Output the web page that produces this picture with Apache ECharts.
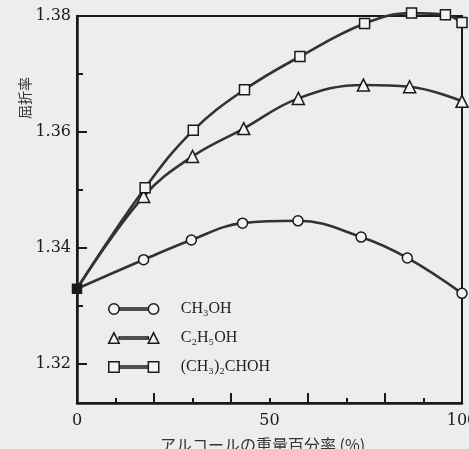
<!DOCTYPE html>
<html><head><meta charset="utf-8">
<script src="https://cdn.jsdelivr.net/npm/echarts@6/dist/echarts.min.js"></script>
<style>html,body{margin:0;padding:0;background:#ededeb}#c{width:469px;height:449px}</style>
</head><body><div id="c"></div>
<script>
// Data (x: alcohol weight %, y: refractive index)
const seriesNames = ['CH₃OH', 'C₂H₅OH', '(CH₃)₂CHOH'];
const xMethanol = [0, 17.3, 29.7, 43.0, 57.4, 73.8, 85.8, 100];
const yMethanol = [1.3330, 1.3380, 1.3414, 1.3443, 1.3447, 1.3419, 1.3383, 1.3322];
const xEthanol = [0, 17.3, 30.0, 43.3, 57.5, 74.4, 86.4, 100];
const yEthanol = [1.3330, 1.3489, 1.3558, 1.3606, 1.3658, 1.3681, 1.3678, 1.3653];
const xIsopropanol = [0, 17.7, 30.2, 43.5, 57.9, 74.7, 86.9, 95.7, 100];
const yIsopropanol = [1.3330, 1.3504, 1.3603, 1.3673, 1.3730, 1.3787, 1.3805, 1.3802, 1.3789];
const yLabelValues = [1.32, 1.34, 1.36, 1.38];
const yMajorTicks = [1.32, 1.34, 1.36];
const yMinorTicks = [1.33, 1.35, 1.37];
const xLabelValues = [0, 50, 100];
const yAxisTitle = '屈折率';
const xAxisTitle = 'アルコールの重量百分率 (%)';

const ink = '#1a1a1a';
const paper = '#f3f3f1';
function build(xs, ys, blob) {
  return xs.map((x, i) => {
    if (i === 0) {
      return blob ? {value: [x, ys[i]], symbol: 'rect', symbolSize: 9, itemStyle: {color: ink}}
                  : {value: [x, ys[i]], symbol: 'none'};
    }
    return [x, ys[i]];
  });
}
const circleIcon = 'path://M1,6 A5,5 0 1,1 11,6 A5,5 0 1,1 1,6 Z M11,5 L39,5 L39,7 L11,7 Z M39,6 A5,5 0 1,1 49,6 A5,5 0 1,1 39,6 Z';
const triIcon = 'path://M1,11 L6,1 L11,11 Z M11,5 L39,5 L39,7 L11,7 Z M39,11 L44,1 L49,11 Z';
const rectIcon = 'path://M1,1 L11,1 L11,11 L1,11 Z M11,5 L39,5 L39,7 L11,7 Z M39,1 L49,1 L49,11 L39,11 Z';

function lineSeries(name, data, symbol, size) {
  return {
    name, type: 'line', data, symbol, symbolSize: size, smooth: 0.4, clip: false,
    lineStyle: {color: '#333333', width: 2.6},
    itemStyle: {color: paper, borderColor: ink, borderWidth: 1.5},
    emphasis: {disabled: true}
  };
}

const chart = echarts.init(document.getElementById('c'));
chart.setOption({
  backgroundColor: '#ededeb',
  animation: false,
  grid: {left: 77, right: 7, top: 16, bottom: 46, outerBoundsMode: 'none', containLabel: false,
         show: true, borderColor: ink, borderWidth: 2, backgroundColor: 'transparent'},
  xAxis: {
    type: 'value', min: 0, max: 100, interval: 20,
    name: xAxisTitle, nameLocation: 'middle', nameGap: 34,
    nameTextStyle: {fontFamily: 'Noto Sans CJK JP', fontSize: 16, color: '#333', padding: [0, 14, 0, 0]},
    axisLine: {show: true, lineStyle: {color: ink, width: 2.5}},
    axisTick: {show: true, inside: true, length: 10, lineStyle: {color: ink, width: 2}},
    minorTick: {show: true, splitNumber: 2, length: 5, lineStyle: {color: ink, width: 2}},
    axisLabel: {customValues: xLabelValues, margin: 10, fontFamily: 'DejaVu Serif', fontSize: 16, color: ink},
    splitLine: {show: false}, minorSplitLine: {show: false}
  },
  yAxis: [{
    type: 'value', min: 1.3133, max: 1.38, position: 'left',
    axisLine: {show: true, lineStyle: {color: ink, width: 2.5}},
    axisTick: {show: true, inside: true, length: 10, customValues: yMajorTicks, lineStyle: {color: ink, width: 2}},
    axisLabel: {customValues: yLabelValues, formatter: v => v.toFixed(2), margin: 6, fontFamily: 'DejaVu Serif', fontSize: 16, color: ink},
    splitLine: {show: false}
  }, {
    type: 'value', min: 1.3133, max: 1.38, position: 'left', offset: 0,
    axisLine: {show: false},
    axisTick: {show: true, inside: true, length: 6, customValues: yMinorTicks, lineStyle: {color: ink, width: 2}},
    axisLabel: {show: false},
    splitLine: {show: false}
  }],
  legend: {
    orient: 'vertical', left: 103, top: 296, itemWidth: 50, itemHeight: 12, itemGap: 13,
    selectedMode: false,
    itemStyle: {color: paper, borderColor: ink, borderWidth: 1.5},
    textStyle: {fontFamily: 'Liberation Serif', fontSize: 16, color: '#222', padding: [0, 0, 0, 17]},
    data: [
      {name: seriesNames[0], icon: circleIcon},
      {name: seriesNames[1], icon: triIcon},
      {name: seriesNames[2], icon: rectIcon}
    ]
  },
  graphic: [{
    type: 'text', x: 25, y: 98, rotation: Math.PI / 2,
    style: {text: yAxisTitle, fontFamily: 'Noto Sans CJK JP', fontSize: 14, fill: '#333', align: 'center', verticalAlign: 'middle'}
  }],
  series: [
    lineSeries(seriesNames[0], build(xMethanol, yMethanol, true), 'circle', 10),
    lineSeries(seriesNames[1], build(xEthanol, yEthanol, false), 'triangle', 12),
    lineSeries(seriesNames[2], build(xIsopropanol, yIsopropanol, false), 'rect', 10)
  ]
});
</script>
</body></html>
